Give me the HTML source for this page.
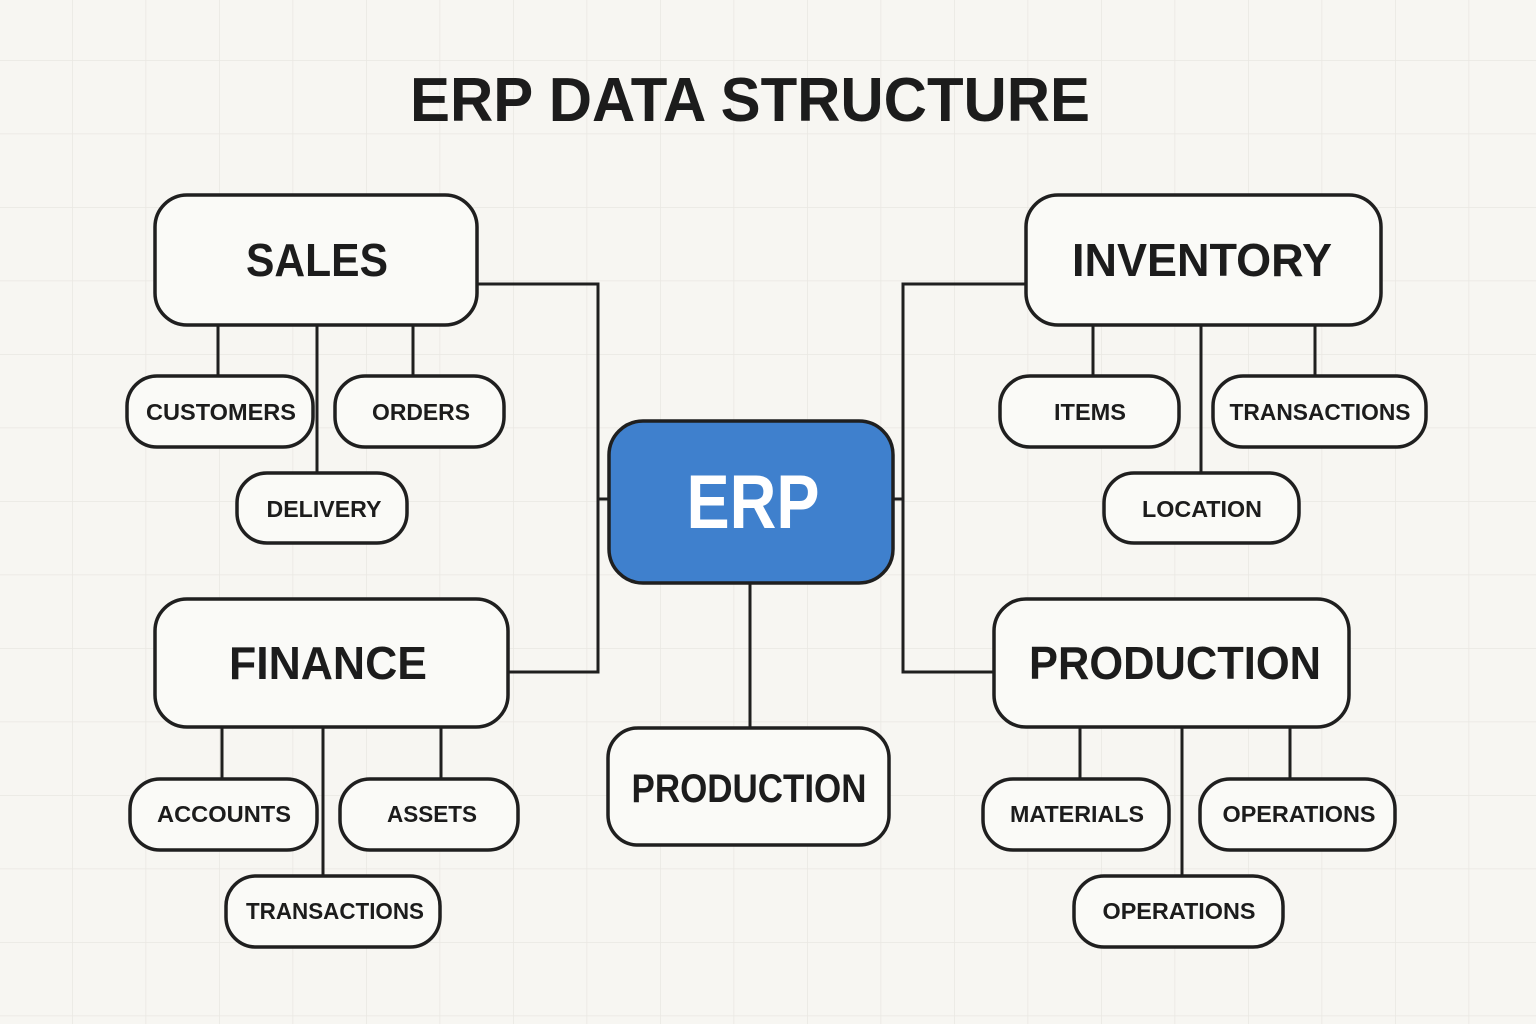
<!DOCTYPE html>
<html><head><meta charset="utf-8"><style>
html,body{margin:0;padding:0;background:#f7f6f2;}
svg{display:block}
text{font-family:"Liberation Sans",Arial,sans-serif;font-weight:bold;fill:#1c1c1c;text-anchor:middle}
</style></head><body>
<svg width="1536" height="1024" viewBox="0 0 1536 1024" xmlns="http://www.w3.org/2000/svg">
<defs>
<pattern id="g" x="72" y="60" width="73.5" height="73.5" patternUnits="userSpaceOnUse">
<path d="M0 0 H73.5 M0 0 V73.5" stroke="#e9e7e2" stroke-width="1.5" fill="none"/>
</pattern>
</defs>
<rect width="1536" height="1024" fill="#f7f6f2"/>
<rect width="1536" height="1024" fill="url(#g)"/>

<text x="750" y="121" font-size="62" textLength="680" lengthAdjust="spacingAndGlyphs">ERP DATA STRUCTURE</text>

<g stroke="#1f1f1f" stroke-width="3" fill="none">
<path d="M478 284 H598 V672 H508 M598 499 H609"/>
<path d="M1025 284 H903 V672 H994 M903 499 H893"/>
<path d="M750 583 V728"/>
<path d="M218 325 V376 M317 325 V473 M413 325 V376"/>
<path d="M1093 325 V376 M1201 325 V473 M1315 325 V376"/>
<path d="M222 727 V779 M323 727 V876 M441 727 V779"/>
<path d="M1080 727 V779 M1182 727 V876 M1290 727 V779"/>
</g>

<g stroke="#1f1f1f" stroke-width="3.5" fill="#fafaf7">
<rect x="155" y="195" width="322" height="130" rx="32"/>
<rect x="1026" y="195" width="355" height="130" rx="32"/>
<rect x="155" y="599" width="353" height="128" rx="32"/>
<rect x="994" y="599" width="355" height="128" rx="32"/>
<rect x="608" y="728" width="281" height="117" rx="30"/>
<rect x="127" y="376" width="186" height="71" rx="30"/>
<rect x="335" y="376" width="169" height="71" rx="30"/>
<rect x="237" y="473" width="170" height="70" rx="30"/>
<rect x="1000" y="376" width="179" height="71" rx="30"/>
<rect x="1213" y="376" width="213" height="71" rx="30"/>
<rect x="1104" y="473" width="195" height="70" rx="30"/>
<rect x="130" y="779" width="187" height="71" rx="30"/>
<rect x="340" y="779" width="178" height="71" rx="30"/>
<rect x="226" y="876" width="214" height="71" rx="30"/>
<rect x="983" y="779" width="186" height="71" rx="30"/>
<rect x="1200" y="779" width="195" height="71" rx="30"/>
<rect x="1074" y="876" width="209" height="71" rx="30"/>
</g>
<rect x="609" y="421" width="284" height="162" rx="34" fill="#3f80cd" stroke="#1f1f1f" stroke-width="3.5"/>

<text x="753" y="528" font-size="76" fill="#fff" style="fill:#fff" textLength="133" lengthAdjust="spacingAndGlyphs">ERP</text>

<g font-size="46">
<text x="317" y="276" textLength="142" lengthAdjust="spacingAndGlyphs">SALES</text>
<text x="1202" y="276" textLength="260" lengthAdjust="spacingAndGlyphs">INVENTORY</text>
<text x="328" y="679" textLength="198" lengthAdjust="spacingAndGlyphs">FINANCE</text>
<text x="1175" y="679" textLength="292" lengthAdjust="spacingAndGlyphs">PRODUCTION</text>
</g>
<text x="749" y="802" font-size="40" textLength="235" lengthAdjust="spacingAndGlyphs">PRODUCTION</text>

<g font-size="23">
<text x="221" y="420" textLength="150" lengthAdjust="spacingAndGlyphs">CUSTOMERS</text>
<text x="421" y="420" textLength="98" lengthAdjust="spacingAndGlyphs">ORDERS</text>
<text x="324" y="517" textLength="115" lengthAdjust="spacingAndGlyphs">DELIVERY</text>
<text x="1090" y="420" textLength="72" lengthAdjust="spacingAndGlyphs">ITEMS</text>
<text x="1320" y="420" textLength="181" lengthAdjust="spacingAndGlyphs">TRANSACTIONS</text>
<text x="1202" y="517" textLength="120" lengthAdjust="spacingAndGlyphs">LOCATION</text>
<text x="224" y="822" textLength="134" lengthAdjust="spacingAndGlyphs">ACCOUNTS</text>
<text x="432" y="822" textLength="90" lengthAdjust="spacingAndGlyphs">ASSETS</text>
<text x="335" y="919" textLength="178" lengthAdjust="spacingAndGlyphs">TRANSACTIONS</text>
<text x="1077" y="822" textLength="134" lengthAdjust="spacingAndGlyphs">MATERIALS</text>
<text x="1299" y="822" textLength="153" lengthAdjust="spacingAndGlyphs">OPERATIONS</text>
<text x="1179" y="919" textLength="153" lengthAdjust="spacingAndGlyphs">OPERATIONS</text>
</g>
</svg>
</body></html>
